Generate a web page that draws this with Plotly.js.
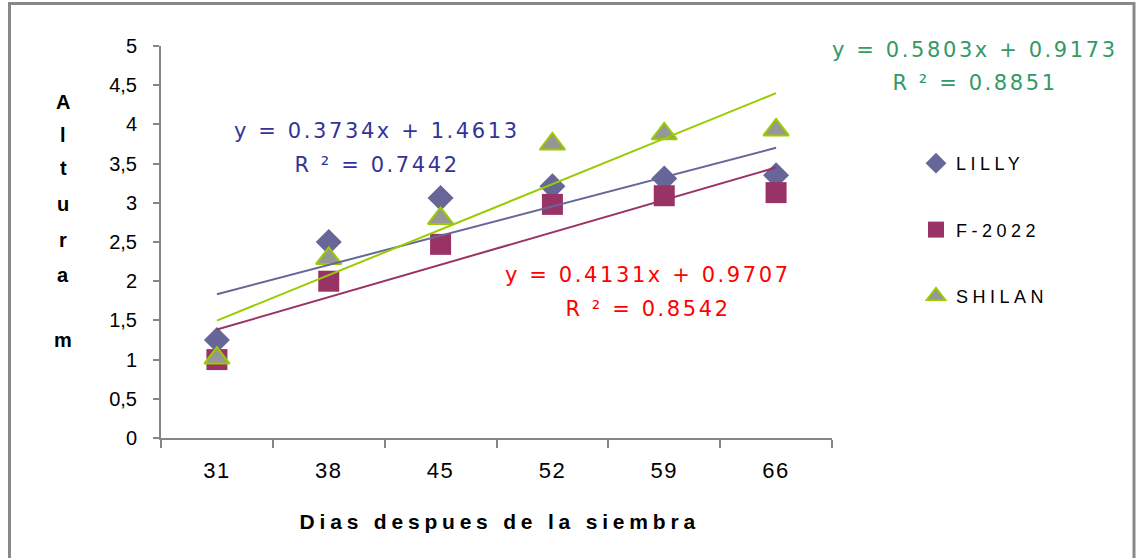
<!DOCTYPE html>
<html>
<head>
<meta charset="utf-8">
<script src="https://cdn.plot.ly/plotly-3.0.1.min.js"></script>
<style>
  html, body { margin: 0; padding: 0; background: #fff; }
  #chart { width: 1136px; height: 558px; }
</style>
</head>
<body>
<div id="chart"></div>
<script>
// ---- data ----
const categories = ['31', '38', '45', '52', '59', '66'];
const seriesNames = ['LILLY', 'F-2022', 'SHILAN'];
const lilly  = [1.25, 2.50, 3.06, 3.21, 3.31, 3.35];
const f2022  = [1.00, 2.00, 2.47, 2.98, 3.09, 3.13];
const shilan = [1.02, 2.29, 2.80, 3.75, 3.88, 3.93];
const slopes     = [0.3734, 0.4131, 0.5803];
const intercepts = [1.4613, 0.9707, 0.9173];
const r2         = ['0.7442', '0.8542', '0.8851'];
const yTickVals  = [0, 0.5, 1, 1.5, 2, 2.5, 3, 3.5, 4, 4.5, 5];
const xTitle = 'Dias despues de la siembra';
const yTitleLetters = ['A', 'l', 't', 'u', 'r', 'a', '', 'm'];

// ---- styles ----
const markerColors = ['#666699', '#993366', '#969696'];
const lineColors   = ['#666699', '#993366', '#99CC00'];
const eqColors     = ['#333399', '#FF0000', '#339966'];
const symbols      = ['diamond', 'square', 'triangle-up'];
const sizes        = [20, 21, 22];
const values = [lilly, f2022, shilan];

const traces = [];
values.forEach((vals, i) => {
  traces.push({
    type: 'scatter', mode: 'markers', x: categories, y: vals,
    name: seriesNames[i], legendgroup: 'g' + i,
    marker: {
      symbol: symbols[i], size: sizes[i], color: markerColors[i],
      line: i === 2 ? {color: '#99CC00', width: 2} : {width: 0}
    },
    cliponaxis: false
  });
});
values.forEach((vals, i) => {
  const xs = [categories[0], categories[categories.length - 1]];
  const ys = [slopes[i] * 1 + intercepts[i], slopes[i] * categories.length + intercepts[i]];
  traces.push({
    type: 'scatter', mode: 'lines', x: xs, y: ys, showlegend: false,
    hoverinfo: 'skip',
    line: {color: lineColors[i], width: 2}
  });
});

// plot area in pixels
const L = 161, R = 832, T = 46, B = 438;
const W = R - L, H = B - T;
const px = x => (x - L) / W;
const py = y => (B - y) / H;

const eqPos = [[377, 131, 165], [648, 275, 309], [975, 50, 83]];
const annotations = [];
eqPos.forEach((p, i) => {
  annotations.push({
    xref: 'paper', yref: 'paper', x: px(p[0]), y: py(p[1]), xanchor: 'center', yanchor: 'middle',
    text: 'y = ' + slopes[i].toFixed(4) + 'x + ' + intercepts[i].toFixed(4), showarrow: false,
    font: {family: 'DejaVu Sans', size: 21, color: eqColors[i]}
  });
  annotations.push({
    xref: 'paper', yref: 'paper', x: px(p[0]), y: py(p[2]), xanchor: 'center', yanchor: 'middle',
    text: 'R ² = ' + r2[i], showarrow: false,
    font: {family: 'DejaVu Sans', size: 21, color: eqColors[i]}
  });
});
annotations.push({
  xref: 'paper', yref: 'paper', x: px(500), y: py(521), xanchor: 'center', yanchor: 'middle',
  text: '<b>' + xTitle + '</b>', showarrow: false,
  font: {family: 'Liberation Sans', size: 21, color: '#000'}
});
const letterY = [102, 135, 168, 204, 240, 275, 308, 340];
yTitleLetters.forEach((ch, k) => {
  if (!ch) return;
  annotations.push({
    xref: 'paper', yref: 'paper', x: px(63), y: py(letterY[k]), xanchor: 'center', yanchor: 'middle',
    text: '<b>' + ch + '</b>', showarrow: false,
    font: {family: 'Liberation Sans', size: 20, color: '#000'}
  });
});

const shapes = [{
  type: 'rect', xref: 'paper', yref: 'paper',
  x0: px(9.5), x1: px(1134), y0: py(580), y1: py(3.5),
  line: {color: '#888888', width: 3}, fillcolor: 'rgba(0,0,0,0)', layer: 'below'
}];

const layout = {
  width: 1136, height: 558,
  margin: {l: L, r: 1136 - R, t: T, b: 558 - B, pad: 0},
  paper_bgcolor: '#fff', plot_bgcolor: '#fff',
  separators: ',.',
  showlegend: true,
  legend: {
    x: px(916), y: py(145), xanchor: 'left', yanchor: 'top',
    font: {family: 'Liberation Sans', size: 18, color: '#000'},
    tracegroupgap: 40, itemsizing: 'trace', bgcolor: 'rgba(0,0,0,0)'
  },
  xaxis: {
    type: 'category', range: [-0.5, 5.5], tickson: 'boundaries',
    ticks: 'outside', ticklen: 8, tickwidth: 2, tickcolor: '#868686',
    showline: true, linecolor: '#868686', linewidth: 2,
    showgrid: false, zeroline: false, fixedrange: true,
    tickfont: {family: 'Liberation Sans', size: 22, color: '#000'},
    ticklabelstandoff: 12
  },
  yaxis: {
    range: [0, 5], tickvals: yTickVals, ticks: 'outside', ticklen: 6, tickwidth: 2,
    tickcolor: '#868686', showline: true, linecolor: '#868686', linewidth: 2,
    showgrid: false, zeroline: false, fixedrange: true,
    tickfont: {family: 'Liberation Sans', size: 20, color: '#000'},
    ticklabelstandoff: 12
  },
  annotations: annotations,
  shapes: shapes
};

Plotly.newPlot('chart', traces, layout, {displayModeBar: false, staticPlot: true}).then(() => {
  document.querySelectorAll('.annotation-text').forEach(t => {
    const txt = t.textContent;
    if (txt.startsWith('y =') || txt.startsWith('R')) t.style.letterSpacing = '2.6px';
    if (txt === xTitle) t.style.letterSpacing = '4.8px';
  });
  document.querySelectorAll('.xtick text').forEach(t => { t.style.letterSpacing = '1.5px'; });
  document.querySelectorAll('.legendtext').forEach(t => { t.style.letterSpacing = '4.5px'; });
  document.querySelectorAll('.legend [clip-path], .legend').forEach(e => e.removeAttribute('clip-path'));
});
</script>
</body>
</html>
